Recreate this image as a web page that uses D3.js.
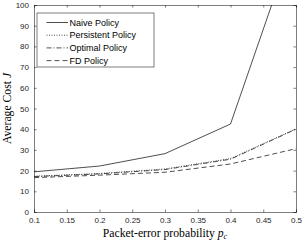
<!DOCTYPE html>
<html>
<head>
<meta charset="utf-8">
<script src="https://cdn.jsdelivr.net/npm/d3@7"></script>
<style>
body { margin: 0; background: #fff; }
svg { display: block; }
.tick text { font-family: "Liberation Sans", Arial, sans-serif; font-size: 8px; fill: #262626; }
</style>
</head>
<body>
<div id="chart"></div>
<script>
var pc = [0.1, 0.2, 0.3, 0.4, 0.5];
var naive = [19.4, 22.2, 28.2, 42.5, 134];
var persistent = [17.3, 18.6, 20.8, 25.8, 40.2];
var optimal = [17.1, 18.4, 20.5, 25.5, 40];
var fd = [16.6, 17.8, 19.2, 23.2, 30.6];
var xTicks = [0.1, 0.15, 0.2, 0.25, 0.3, 0.35, 0.4, 0.45, 0.5];
var yTicks = [0, 10, 20, 30, 40, 50, 60, 70, 80, 90, 100];
var names = ["Naive Policy", "Persistent Policy", "Optimal Policy", "FD Policy"];

var w = 303, h = 241;
var pLeft = 34, pRight = 296, pTop = 5, pBottom = 212;
var ink = "#262626";

var series = [
	{name: names[0], vals: naive, dash: null},
	{name: names[1], vals: persistent, dash: "1,1.5"},
	{name: names[2], vals: optimal, dash: "5,2,1,2"},
	{name: names[3], vals: fd, dash: "5,3"}
];

var xScale = d3.scaleLinear().domain([0.1, 0.5]).range([pLeft, pRight]);
var yScale = d3.scaleLinear().domain([0, 100]).range([pBottom, pTop]);

var svg = d3.select("#chart").append("svg").attr("width", w).attr("height", h);

svg.append("defs").append("clipPath").attr("id", "clip").
append("rect").attr("x", pLeft).attr("y", pTop).
attr("width", pRight - pLeft).attr("height", pBottom - pTop);

// axes, MATLAB style: ticks inside, box on
var xAxis = d3.axisBottom(xScale).tickValues(xTicks).tickSize(-2.5).tickPadding(5).
tickFormat(function (d) {return String(+d.toFixed(2));});
var yAxis = d3.axisLeft(yScale).tickValues(yTicks).tickSize(-2.5).tickPadding(5);

var gx = svg.append("g").attr("transform", "translate(0," + pBottom + ")").call(xAxis);
var gy = svg.append("g").attr("transform", "translate(" + pLeft + ",0)").call(yAxis);
var gxt = svg.append("g").attr("transform", "translate(0," + pTop + ")").
call(d3.axisTop(xScale).tickValues(xTicks).tickSize(-2.5).tickFormat(""));
var gyr = svg.append("g").attr("transform", "translate(" + pRight + ",0)").
call(d3.axisRight(yScale).tickValues(yTicks).tickSize(-2.5).tickFormat(""));

[gx, gy, gxt, gyr].forEach(function (g) {
	g.select(".domain").attr("stroke", ink).attr("stroke-width", 0.6);
	g.selectAll(".tick line").attr("stroke", ink).attr("stroke-width", 0.6);
});

// lines
var line = d3.line().
x(function (d) {return xScale(d[0]);}).
y(function (d) {return yScale(d[1]);});

svg.append("g").attr("clip-path", "url(#clip)").
selectAll("path").
data(series).
enter().
append("path").
attr("d", function (s) {return line(pc.map(function (p, i) {return [p, s.vals[i]];}));}).
attr("fill", "none").
attr("stroke", "#222").
attr("stroke-width", 0.8).
attr("stroke-dasharray", function (s) {return s.dash;});

// legend
var lx = 37, ly = 13, lw = 117, lh = 54;
var leg = svg.append("g");
leg.append("rect").attr("x", lx).attr("y", ly).attr("width", lw).attr("height", lh).
attr("fill", "#fff").attr("stroke", ink).attr("stroke-width", 0.6);

var rows = leg.selectAll("g.row").data(series).enter().append("g").
attr("transform", function (s, i) {return "translate(" + lx + "," + (ly + 9.5 + i * 12.7) + ")";});
rows.append("line").attr("x1", 9.5).attr("x2", 31).attr("y1", 0).attr("y2", 0).
attr("stroke", "#222").attr("stroke-width", 0.8).
attr("stroke-dasharray", function (s) {return s.dash;});
rows.append("text").attr("x", 32.5).attr("y", 3).
style("font-family", "'Liberation Sans', Arial, sans-serif").style("font-size", "9px").
attr("fill", "#000").text(function (s) {return s.name;});

// axis labels
var xl = svg.append("text").attr("x", (pLeft + pRight) / 2).attr("y", 237).
attr("text-anchor", "middle").
style("font-family", "'Liberation Serif', 'Times New Roman', serif").style("font-size", "11.7px").
attr("fill", "#000");
xl.append("tspan").text("Packet-error probability ");
xl.append("tspan").attr("font-style", "italic").text("p");
xl.append("tspan").attr("font-style", "italic").attr("font-size", "8px").attr("dy", 2).text("c");

var yl = svg.append("text").attr("transform", "translate(11," + ((pTop + pBottom) / 2) + ") rotate(-90)").
attr("text-anchor", "middle").
style("font-family", "'Liberation Serif', 'Times New Roman', serif").style("font-size", "11.7px").
attr("fill", "#000");
yl.append("tspan").text("Average Cost ");
yl.append("tspan").attr("font-style", "italic").text("J");
</script>
</body>
</html>
